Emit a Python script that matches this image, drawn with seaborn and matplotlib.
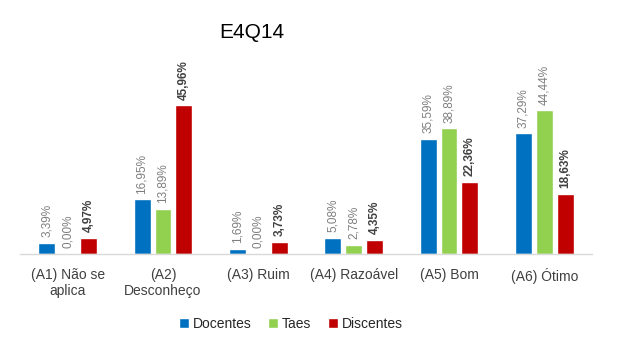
import matplotlib
matplotlib.use("Agg")
import matplotlib.pyplot as plt
import seaborn as sns
import pandas as pd

categories = ["(A1) Não se\naplica", "(A2)\nDesconheço", "(A3) Ruim",
              "(A4) Razoável", "(A5) Bom", "(A6) Ótimo"]
docentes = [3.39, 16.95, 1.69, 5.08, 35.59, 37.29]
taes = [0.00, 13.89, 0.00, 2.78, 38.89, 44.44]
discentes = [4.97, 45.96, 3.73, 4.35, 22.36, 18.63]
series_names = ["Docentes", "Taes", "Discentes"]
colors = ["#0070C0", "#92D050", "#C00000"]

df = pd.DataFrame({
    "categoria": categories * 3,
    "grupo": [s for s in series_names for _ in categories],
    "valor": docentes + taes + discentes,
})

sns.set_theme(style="white")
plt.rcParams["font.family"] = ["Liberation Sans", "DejaVu Sans"]

fig = plt.figure(figsize=(6.41, 3.47), dpi=100)
ax = fig.add_axes([20 / 641, 93 / 347, 572 / 641, 178 / 347])

sns.barplot(data=df, x="categoria", y="valor", hue="grupo",
            hue_order=series_names, palette=colors, width=0.66, gap=0.19,
            ax=ax, legend=True, saturation=1)

for cont, name in zip(ax.containers, series_names):
    bold = name == "Discentes"
    ax.bar_label(cont, labels=[f"{v:.2f}%".replace(".", ",") for v in cont.datavalues],
                 rotation=90, padding=4, fontsize=8.5,
                 color="#404040" if bold else "#7F7F7F",
                 fontweight="bold" if bold else "normal")

ax.set_xlim(-0.5, 5.5)
ax.set_ylim(0, 55)
ax.set_xlabel("")
ax.set_ylabel("")
ax.set_yticks([])
for s in ["top", "right", "left"]:
    ax.spines[s].set_visible(False)
ax.spines["bottom"].set_color("#D9D9D9")
ax.spines["bottom"].set_linewidth(1)
ax.tick_params(axis="x", length=0, pad=10, labelsize=10, labelcolor="#404040")

leg = ax.legend(loc="center", bbox_to_anchor=(291 / 641, 1 - 324 / 347),
                bbox_transform=fig.transFigure, ncol=3, frameon=False,
                fontsize=10, handlelength=0.7, handleheight=0.7,
                handletextpad=0.3, columnspacing=1.2)
for t in leg.get_texts():
    t.set_color("#262626")

fig.text(252 / 641, 1 - 32 / 347, "E4Q14", ha="center", va="center",
         fontsize=15, color="#000000")

fig.savefig("out.png", dpi=100)
